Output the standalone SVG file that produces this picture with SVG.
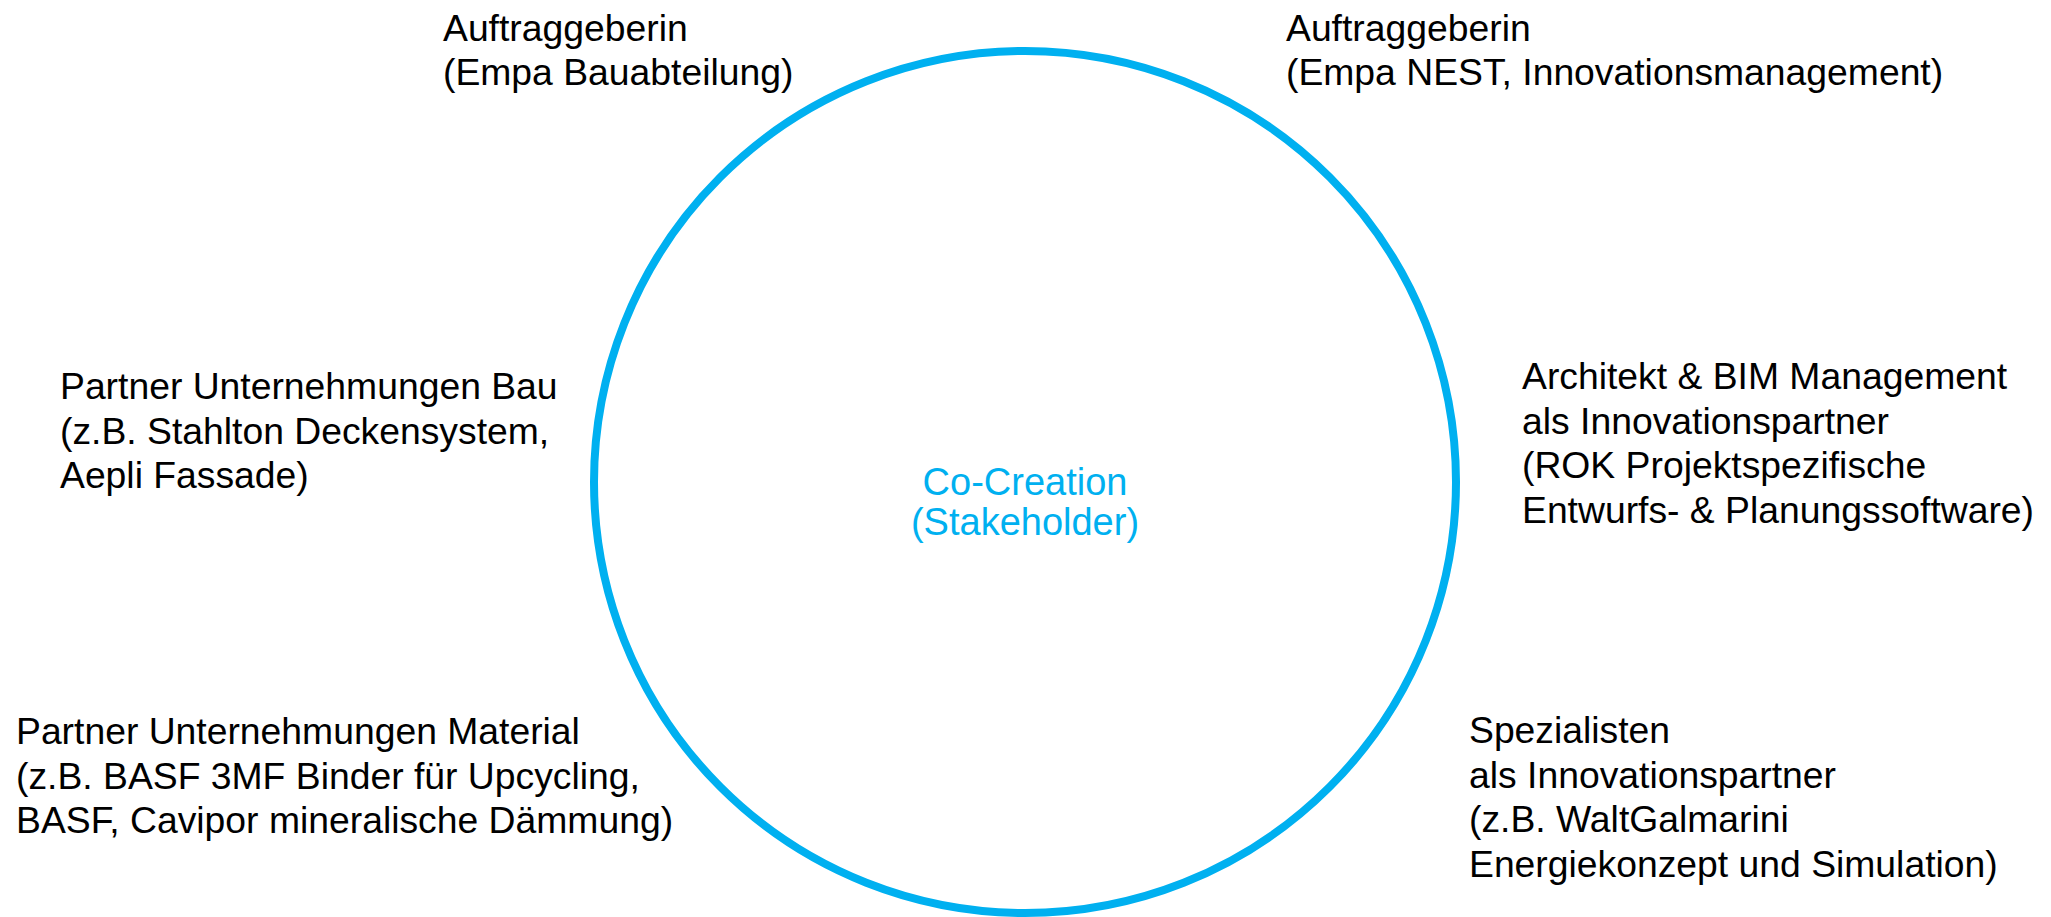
<svg xmlns="http://www.w3.org/2000/svg" width="2051" height="917" viewBox="0 0 2051 917">
<style>
.t{font-family:"Liberation Sans",Arial,sans-serif;font-size:37.3px;fill:#000}
.c{font-family:"Liberation Sans",Arial,sans-serif;font-size:38px;fill:#00B0F0;text-anchor:middle}
</style>
<rect width="2051" height="917" fill="#fff"/>
<g id="center">
<circle cx="1025" cy="482" r="431" fill="none" stroke="#00B0F0" stroke-width="8"/>
<text class="c" x="1025" y="495">Co-Creation</text>
<text class="c" x="1025" y="535">(Stakeholder)</text>
</g>
<g id="connectors"></g>
<g id="n1"><text class="t" x="443" y="41">Auftraggeberin</text><text class="t" x="443" y="85">(Empa Bauabteilung)</text></g>
<g id="n2"><text class="t" x="1286" y="41">Auftraggeberin</text><text class="t" x="1286" y="85">(Empa NEST, Innovationsmanagement)</text></g>
<g id="n3"><text class="t" x="60" y="399">Partner Unternehmungen Bau</text><text class="t" x="60" y="443.5">(z.B. Stahlton Deckensystem,</text><text class="t" x="60" y="488">Aepli Fassade)</text></g>
<g id="n4"><text class="t" x="1522" y="389">Architekt &amp; BIM Management</text><text class="t" x="1522" y="433.5">als Innovationspartner</text><text class="t" x="1522" y="478">(ROK Projektspezifische</text><text class="t" x="1522" y="522.5">Entwurfs- &amp; Planungssoftware)</text></g>
<g id="n5"><text class="t" x="16" y="744">Partner Unternehmungen Material</text><text class="t" x="16" y="788.5">(z.B. BASF 3MF Binder für Upcycling,</text><text class="t" x="16" y="833">BASF, Cavipor mineralische Dämmung)</text></g>
<g id="n6"><text class="t" x="1469" y="743">Spezialisten</text><text class="t" x="1469" y="787.5">als Innovationspartner</text><text class="t" x="1469" y="832">(z.B. WaltGalmarini</text><text class="t" x="1469" y="876.5">Energiekonzept und Simulation)</text></g>
</svg>
